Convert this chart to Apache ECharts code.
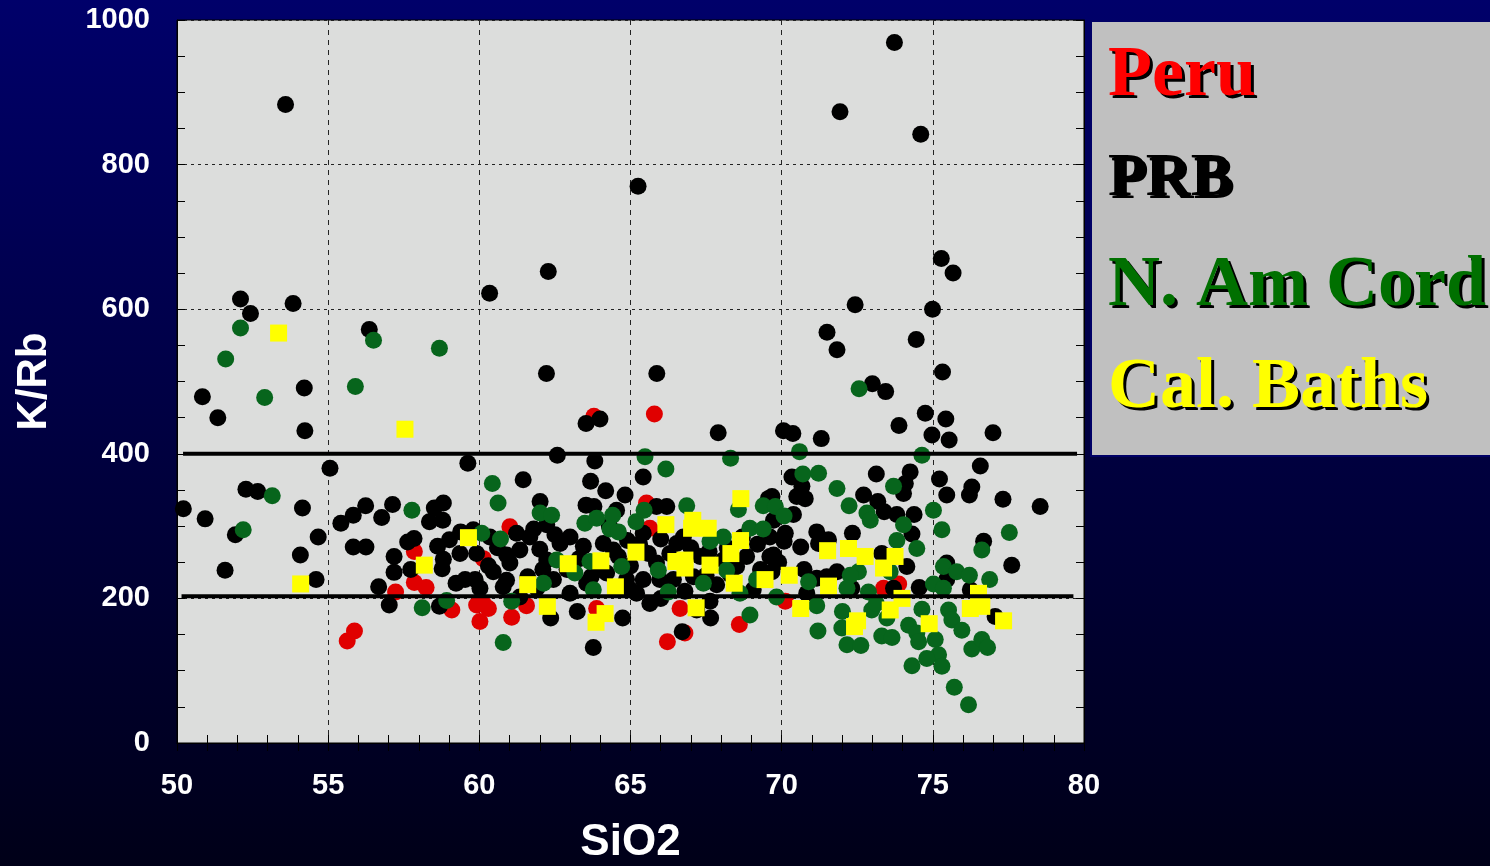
<!DOCTYPE html>
<html>
<head>
<meta charset="utf-8">
<title>K/Rb vs SiO2</title>
<script src="https://cdn.jsdelivr.net/npm/echarts@6.0.0/dist/echarts.min.js"></script>
<style>
  html, body { margin: 0; padding: 0; background: #000040; }
  #chart { width: 1490px; height: 866px; }
</style>
</head>
<body>
<div id="chart"></div>
<script>
// [SiO2, K/Rb] pairs
const peru = [
  [63.79,452],[65.79,455],[57.23,209],[57.85,265],[57.85,222],[58.24,215],[59.09,184],[59.91,191],
  [60.02,168],[55.87,155],[55.63,141],[61.01,299],[60.13,255],[60.13,193],[60.3,186],[61.07,174],
  [61.56,190],[63.88,186],[66.64,186],[66.8,152],[66.22,140],[68.6,164],[65.53,332],[65.64,297],
  [70.12,196],[73.37,214],[73.87,220]
];
const prb = [
  [73.73,969],[53.59,883],[71.93,873],[74.6,842],[65.25,770],[75.28,670],[75.67,650],[62.28,652],
  [60.34,622],[52.1,614],[52.43,594],[53.84,608],[72.43,606],[74.99,600],[56.36,572],[71.5,568],
  [71.83,544],[74.45,558],[62.22,511],[65.87,511],[75.32,513],[54.21,491],[73.0,497],[73.44,486],
  [50.84,479],[51.35,450],[54.23,432],[55.06,380],[59.62,387],[50.21,324],[50.93,310],[52.28,351],
  [52.67,348],[54.15,325],[51.93,288],[51.59,239],[54.08,260],[54.67,285],[54.6,226],[55.42,304],
  [55.83,315],[56.24,328],[56.77,312],[57.13,330],[55.83,271],[56.25,271],[57.18,258],[57.18,236],
  [56.67,216],[57.73,240],[57.02,191],[57.63,278],[57.84,283],[58.35,306],[58.51,325],[58.81,332],
  [58.79,308],[58.62,272],[58.81,254],[58.77,241],[59.01,281],[59.38,292],[59.36,262],[59.23,221],
  [59.53,226],[58.68,189],
  [63.53,442],[63.99,448],[67.9,429],[62.58,398],[63.82,390],[65.42,368],[61.45,364],[63.68,362],
  [64.18,349],[64.82,343],[62.01,334],[63.53,329],[63.79,327],[64.54,322],[62.23,302],[65.86,327],
  [66.2,327],[65.42,290],[69.56,338],[69.61,285],[66.53,276],[66.75,285],[61.23,290],[61.67,285],
  [60.35,285],[59.8,295],[59.91,262],[61.01,249],[61.34,267],[60.46,237],[60.79,216],[59.86,226],
  [60.02,214],[62.23,253],[62.67,276],[63.0,285],[63.44,272],[64.1,276],[64.43,267],[64.21,235],
  [62.45,226],[63.0,207],[61.9,214],[63.55,221],[64.87,226],[65.42,226],[65.2,207],[65.59,262],
  [65.86,249],[65.97,226],[66.42,226],[67.08,230],[68.07,253],[68.51,244],[68.84,258],[69.61,258],
  [67.85,219],[67.63,196],[69.06,212],[61.34,202],[62.36,173],[63.24,182],[64.74,173],[63.77,132],
  [65.64,193],[67.19,184],[67.65,173],[66.71,154],
  [62.9,240],[63.3,255],[64.6,258],[65.0,245],[65.3,275],[66.0,282],[66.3,262],[67.0,270],
  [67.3,258],[67.6,265],[68.2,270],[68.7,285],[69.2,275],[69.9,250],[64.0,240],[63.7,230],
  [65.0,212],[66.0,200],[66.8,210],[67.5,232],[68.3,233],[69.3,240],[62.1,240],[61.6,230],
  [60.9,260],[60.6,270],[62.0,268],[64.3,300],[64.9,280],[60.3,245],[60.9,225],[61.8,296],[62.5,288],
  [74.75,456],[75.43,448],[73.88,439],[74.97,426],[75.54,419],[76.99,429],[70.06,432],[70.37,428],
  [71.31,421],[76.57,383],[70.34,368],[73.13,372],[74.25,375],[74.09,359],[74.03,345],[75.22,365],
  [75.46,343],[76.29,354],[76.21,343],[77.32,337],[78.55,327],[70.67,355],[70.5,341],[70.78,338],
  [69.68,341],[70.39,316],[69.73,308],[70.12,290],[70.08,279],[69.73,260],[72.71,343],[73.18,334],
  [73.39,320],[73.81,316],[74.38,316],[74.31,289],[71.16,292],[71.55,281],[72.34,290],[70.63,271],
  [71.22,276],[73.31,262],[74.14,244],[72.32,214],[71.49,230],[70.74,240],[69.68,237],[71.16,228],
  [73.7,214],[74.55,215],[75.46,249],[76.68,279],[77.61,246],[75.46,226],[76.24,212],[77.06,175],
  [71.83,237],[70.83,207]
];
const namCord = [
  [52.1,574],[56.5,557],[58.68,546],[51.61,531],[55.9,493],[72.56,490],[52.9,478],[53.15,342],
  [52.19,295],[57.77,322],[58.11,187],[58.92,197],
  [65.48,396],[68.31,394],[66.17,379],[60.43,359],[60.62,332],[62.01,318],[62.39,315],[63.49,304],
  [63.88,311],[64.41,315],[64.32,296],[64.6,292],[65.18,306],[65.45,322],[66.86,328],[69.39,328],
  [68.57,323],[68.07,285],[68.95,297],[69.39,296],[67.63,279],[60.7,282],[60.08,290],[62.56,253],
  [63.16,235],[62.12,221],[63.66,251],[64.71,244],[63.77,212],[65.92,239],[66.25,209],[67.41,221],
  [68.18,239],[69.17,226],[69.83,202],[68.62,207],[61.07,196],[60.79,139],[68.95,177],
  [70.59,403],[74.64,398],[70.7,372],[71.22,373],[71.83,352],[73.7,355],[69.79,327],[70.08,314],
  [72.23,328],[72.82,318],[72.93,308],[74.03,302],[75.02,322],[75.3,295],[77.53,291],[73.81,280],
  [74.47,269],[73.59,237],[72.54,237],[72.27,232],[72.16,214],[70.89,223],[72.87,209],[75.02,220],
  [75.35,244],[75.79,237],[76.21,232],[76.88,226],[76.62,267],[75.35,214],[75.52,184],[75.63,170],
  [75.96,156],[76.29,130],[76.62,143],[76.81,132],[74.64,185],[74.2,163],[74.47,152],[74.53,140],
  [75.08,143],[75.19,122],[74.8,117],[75.3,106],[74.31,107],[75.71,77],[76.18,53],[73.48,173],
  [73.31,148],[73.65,146],[72.98,184],[73.13,193],[72.01,182],[71.99,159],[72.16,136],[72.62,135],
  [71.2,155],[71.16,190]
];
const calBaths = [
  [53.36,567],[57.54,434],[54.09,220],[58.18,246],[59.64,284],[68.65,338],[66.17,302],[67.06,308],
  [67.02,297],[67.57,297],[68.64,280],[68.32,262],[61.6,219],[62.94,248],[64.02,252],[64.5,216],
  [65.18,264],[66.5,251],[66.8,242],[66.8,253],[67.63,246],[68.43,221],[69.45,226],[62.25,189],
  [64.16,179],[63.86,167],[67.17,187],[71.52,266],[72.21,269],[72.76,258],[73.75,258],[73.37,242],
  [70.25,232],[71.55,217],[73.98,200],[76.51,207],[76.24,186],[76.62,189],[77.34,169],[74.88,165],
  [73.59,184],[72.51,169],[72.41,161],[70.63,186]
];
// the two black reference lines
const upperLine = [[50.2,400],[79.77,400]];
const lowerLine = [[50.15,203],[79.65,203]];

const legendItems = ['Peru', 'PRB', 'N. Am Cord', 'Cal. Baths'];

let chart = echarts.init(document.getElementById('chart'));

const tickFont = { color: '#fff', fontWeight: 'bold', fontSize: 29, fontFamily: 'Liberation Sans, Arial' };
const sideAxis = {
  type: 'value',
  axisLine: { show: true, lineStyle: { color: '#000', width: 1 } },
  axisTick: { show: true, inside: true, length: 8, lineStyle: { color: '#000' } },
  axisLabel: { show: false },
  splitLine: { show: false }
};

// legend word with a hard black drop shadow (drawn as a second text behind)
function legendText(txt, y, size, color) {
  let font = 'bold ' + size + 'px "Liberation Serif", "Times New Roman", serif';
  return [
    { type: 'text', left: 1111, top: y + 3, z: 99, style: { text: txt, font: font, fill: '#000' } },
    { type: 'text', left: 1108, top: y, z: 100, style: { text: txt, font: font, fill: color } }
  ];
}

let option = {
  backgroundColor: {
    type: 'linear', x: 0, y: 0, x2: 0, y2: 1,
    colorStops: [{ offset: 0, color: '#00006a' }, { offset: 1, color: '#000018' }]
  },
  animation: false,
  grid: {
    left: 177, top: 20, right: 406, bottom: 123,
    outerBoundsMode: 'none', containLabel: false,
    show: true, backgroundColor: '#dcdddc', borderColor: '#000', borderWidth: 1
  },
  xAxis: [
    {
      type: 'value', min: 50, max: 80, interval: 5, position: 'bottom',
      name: 'SiO2', nameLocation: 'middle', nameGap: 78,
      nameTextStyle: { color: '#fff', fontWeight: 'bold', fontSize: 44, fontFamily: 'Liberation Sans, Arial' },
      axisLine: { show: true, lineStyle: { color: '#000', width: 1 } },
      axisTick: { show: true, inside: true, length: 8, lineStyle: { color: '#000' } },
      minorTick: { show: true, splitNumber: 5, length: 8, lineStyle: { color: '#000' } },
      axisLabel: Object.assign({ margin: 28 }, tickFont),
      splitLine: { show: true, lineStyle: { color: '#222', width: 1, type: [5, 5] } }
    },
    Object.assign({}, sideAxis, {
      min: 50, max: 80, interval: 5, position: 'top',
      minorTick: { show: true, splitNumber: 5, length: 8, lineStyle: { color: '#000' } }
    })
  ],
  yAxis: [
    {
      type: 'value', min: 0, max: 1000, interval: 200, position: 'left',
      name: 'K/Rb', nameLocation: 'middle', nameGap: 122,
      nameTextStyle: { color: '#fff', fontWeight: 'bold', fontSize: 42, fontFamily: 'Liberation Sans, Arial' },
      axisLine: { show: true, lineStyle: { color: '#000', width: 1 } },
      axisTick: { show: true, inside: true, length: 8, lineStyle: { color: '#000' } },
      minorTick: { show: true, splitNumber: 4, length: 8, lineStyle: { color: '#000' } },
      axisLabel: Object.assign({ margin: 27, formatter: v => String(v) }, tickFont),
      splitLine: { show: true, lineStyle: { color: '#222', width: 1, type: [3, 4] } }
    },
    Object.assign({}, sideAxis, {
      min: 0, max: 1000, interval: 200, position: 'right',
      minorTick: { show: true, splitNumber: 4, length: 8, lineStyle: { color: '#000' } }
    })
  ],
  series: [
    { name: legendItems[0], type: 'scatter', data: peru, symbol: 'circle', symbolSize: 17,
      itemStyle: { color: '#e00000', opacity: 1 }, z: 2 },
    { name: legendItems[1], type: 'scatter', data: prb, symbol: 'circle', symbolSize: 17,
      itemStyle: { color: '#000', opacity: 1 }, z: 3 },
    { name: legendItems[2], type: 'scatter', data: namCord, symbol: 'circle', symbolSize: 17,
      itemStyle: { color: '#07651c', opacity: 1 }, z: 4 },
    { name: legendItems[3], type: 'scatter', data: calBaths, symbol: 'rect', symbolSize: 17,
      itemStyle: { color: '#ffff00', opacity: 1 }, z: 5 },
    { type: 'line', data: upperLine, symbol: 'none', lineStyle: { color: '#000', width: 4 }, z: 6 },
    { type: 'line', data: lowerLine, symbol: 'none', lineStyle: { color: '#000', width: 4 }, z: 6 }
  ],
  graphic: [
    {
      type: 'rect', left: 1090, top: 20, z: 90,
      shape: { width: 400, height: 435 },
      style: { fill: '#c0c0c0', stroke: '#000066', lineWidth: 2 }
    }
  ].concat(
    legendText(legendItems[0], 40, 72, '#ff0000'),
    legendText(legendItems[1], 148, 62, '#000000'),
    legendText(legendItems[2], 250, 72, '#007000'),
    legendText(legendItems[3], 352, 72, '#ffff00')
  )
};

chart.setOption(option);
</script>
</body>
</html>
